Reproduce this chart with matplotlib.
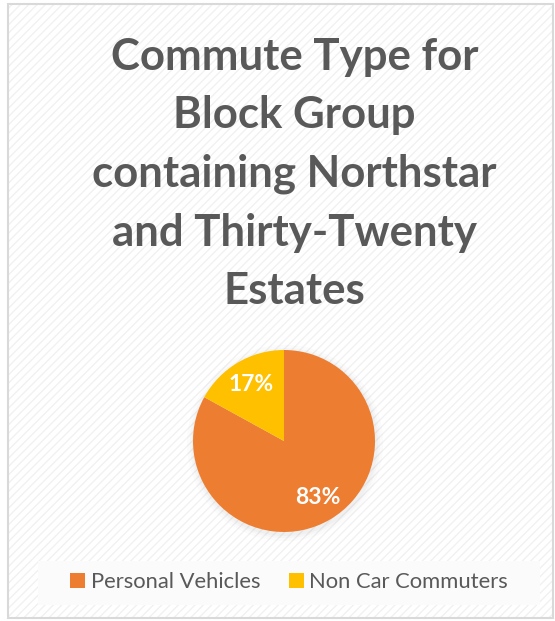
import matplotlib
matplotlib.use("Agg")
import matplotlib.pyplot as plt
from matplotlib.patches import Rectangle, Circle

title = "Commute Type for\nBlock Group\ncontaining Northstar\nand Thirty-Twenty\nEstates"
categories = ["Personal Vehicles", "Non Car Commuters"]
values = [83, 17]
colors = ["#ED7D31", "#FFC000"]

W, H = 555, 621
fig = plt.figure(figsize=(W / 100, H / 100), dpi=100)
fig.patch.set_facecolor("white")

# background panel with light hatch and border
bg = fig.add_axes([0, 0, 1, 1])
bg.set_xlim(0, W)
bg.set_ylim(H, 0)
bg.axis("off")
bg.add_patch(Rectangle((8, 4), 545, 614, facecolor="white", edgecolor="none", zorder=0))
bg.add_patch(Rectangle((8, 4), 545, 614, facecolor="none", edgecolor="#f1f1f1",
                       hatch="////", linewidth=0, zorder=1))
bg.add_patch(Rectangle((8, 4), 545, 614, facecolor="none", edgecolor="#d9d9d9",
                       linewidth=1.5, zorder=2))
# legend background band
bg.add_patch(Rectangle((38, 561), 502, 44, facecolor="#fbfbfb", edgecolor="none", zorder=3))
# soft shadow around pie
for r, a in [(98, 0.04), (95, 0.05), (93, 0.06)]:
    bg.add_patch(Circle((285, 443), r, facecolor="#9a9a9a", edgecolor="none", alpha=a, zorder=3))

fig.text(0.531, 1 - 174 / H, title, ha="center", va="center", fontsize=31.5,
         fontweight="bold", color="#595959", family="Lato", linespacing=1.56)

cx, cy, r = 284, 441, 91
ax = fig.add_axes([(cx - r) / W, 1 - (cy + r) / H, 2 * r / W, 2 * r / H])
wedges, texts, autotexts = ax.pie(values, colors=colors, startangle=90, counterclock=False,
                                  autopct="%1.0f%%", pctdistance=0.72,
                                  wedgeprops=dict(linewidth=0),
                                  textprops=dict(color="white", fontsize=16.5,
                                                 fontweight="bold", family="Lato"))
ax.set_aspect("equal")
ax.set_xlim(-1, 1)
ax.set_ylim(-1, 1)
ax.axis("off")

fig.legend(wedges, categories, loc="center", bbox_to_anchor=(289 / W, 1 - 582 / H),
           ncol=2, frameon=False, handlelength=0.7, handleheight=0.7,
           handletextpad=0.25, columnspacing=1.3, labelcolor="#595959",
           prop=dict(family="Lato", size=15.8))

fig.savefig("out.png", dpi=100, facecolor="white")
